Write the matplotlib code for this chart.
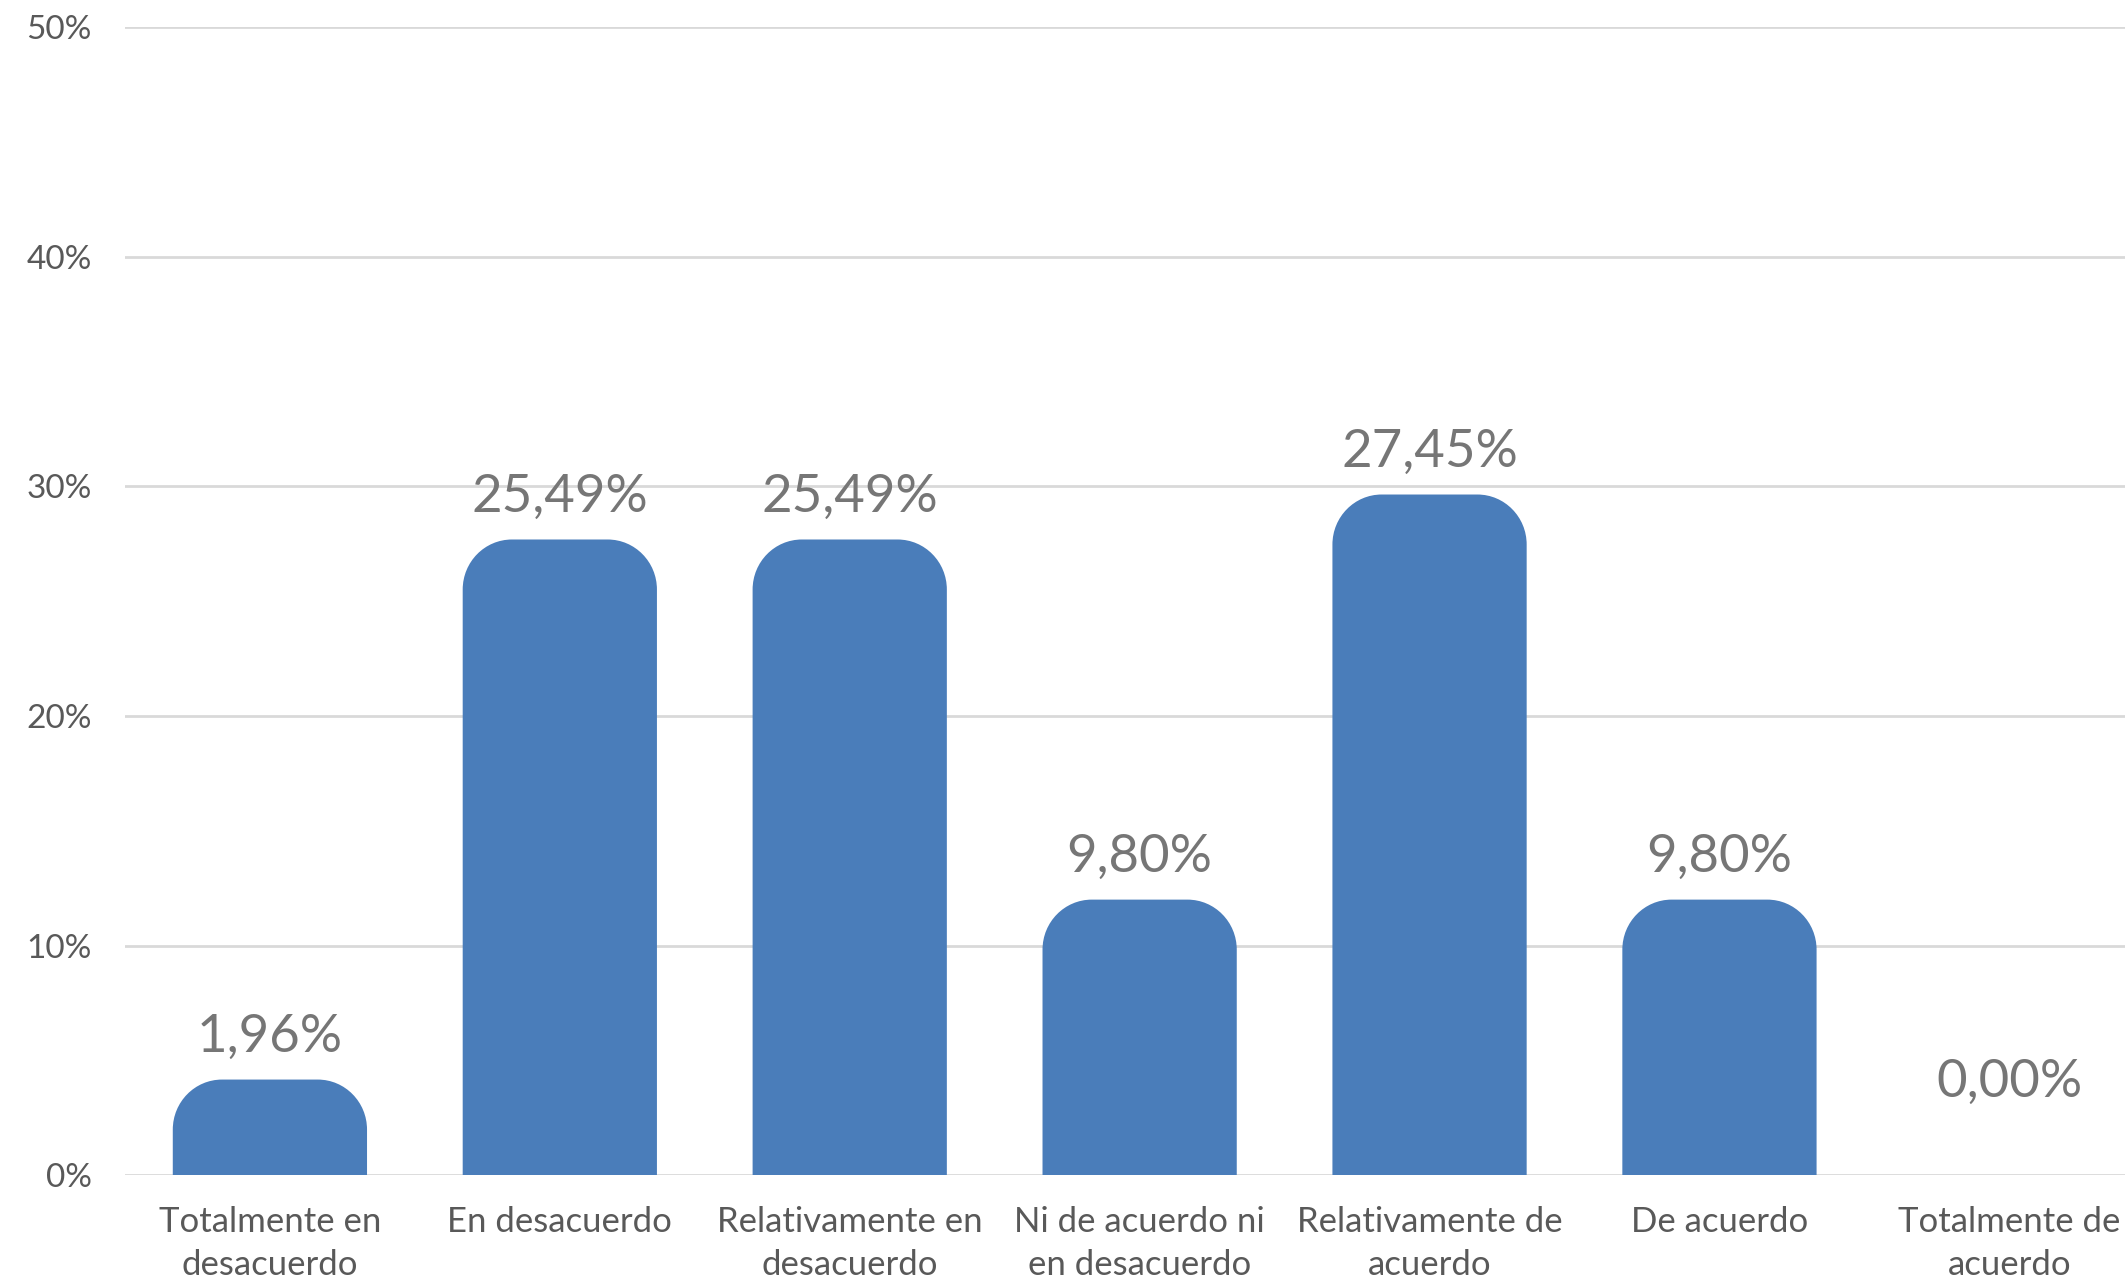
import matplotlib
matplotlib.use("Agg")
import matplotlib.pyplot as plt
from matplotlib.path import Path
from matplotlib.patches import PathPatch

categories = ["Totalmente en\ndesacuerdo", "En desacuerdo", "Relativamente en\ndesacuerdo",
              "Ni de acuerdo ni\nen desacuerdo", "Relativamente de\nacuerdo", "De acuerdo",
              "Totalmente de\nacuerdo"]
values = [1.96, 25.49, 25.49, 9.80, 27.45, 9.80, 0.00]
yticks = [0, 10, 20, 30, 40, 50]

BAR_COLOR = "#4A7DBA"
GRID_COLOR = "#D9D9D9"
TEXT_COLOR = "#595959"
LABEL_COLOR = "#767676"

plt.rcParams['font.family'] = ['Lato', 'DejaVu Sans']


def rounded_top_bar(x, value, width, cap, rx, ry):
    # bar body up to value, plus a rounded cap on top (Excel style)
    x0, x1 = x - width / 2, x + width / 2
    top = value + cap
    k = 0.5523
    verts = [
        (x0, 0), (x0, top - ry),
        (x0, top - ry + k * ry), (x0 + rx - k * rx, top), (x0 + rx, top),
        (x1 - rx, top),
        (x1 - rx + k * rx, top), (x1, top - ry + k * ry), (x1, top - ry),
        (x1, 0), (x0, 0),
    ]
    codes = [Path.MOVETO, Path.LINETO,
             Path.CURVE4, Path.CURVE4, Path.CURVE4,
             Path.LINETO,
             Path.CURVE4, Path.CURVE4, Path.CURVE4,
             Path.LINETO, Path.CLOSEPOLY]
    return PathPatch(Path(verts, codes), facecolor=BAR_COLOR, edgecolor="none", zorder=3)


fig = plt.figure(figsize=(21.25, 12.88), dpi=100)
ax = fig.add_axes([0.0588, 0.0877, 0.955, 0.891])

bar_width = 0.67
cap = 2.2
for i, v in enumerate(values):
    if v > 0:
        ax.add_patch(rounded_top_bar(i, v, bar_width, cap, 0.17, 2.18))
    label = f"{v:.2f}".replace(".", ",") + "%"
    ax.text(i, v + cap + 1.85, label, ha="center", va="center",
            fontsize=38, color=LABEL_COLOR, zorder=4)

ax.set_xlim(-0.5, len(categories) - 0.5)
ax.set_ylim(0, 50)
ax.set_yticks(yticks)
ax.set_yticklabels([f"{t}%" for t in yticks])
ax.set_xticks(range(len(categories)))
ax.set_xticklabels(categories, linespacing=1.45)

ax.tick_params(axis="y", length=0, pad=24, labelsize=24, labelcolor=TEXT_COLOR)
ax.tick_params(axis="x", length=0, pad=22, labelsize=25, labelcolor=TEXT_COLOR)
ax.yaxis.grid(True, color=GRID_COLOR, linewidth=2.0, zorder=0)
ax.set_axisbelow(True)
for s in ax.spines.values():
    s.set_visible(False)

fig.savefig("out.png", dpi=100)
